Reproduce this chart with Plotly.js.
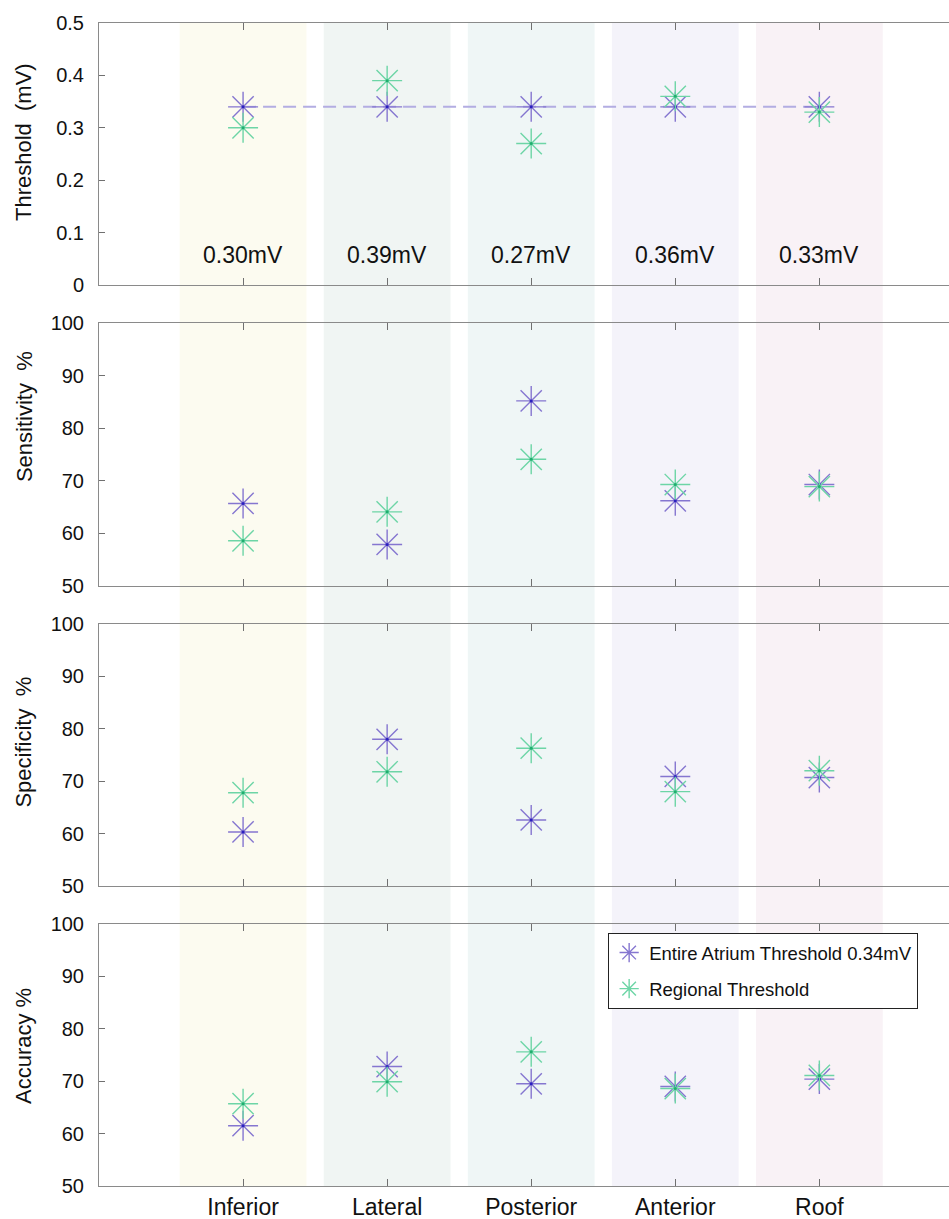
<!DOCTYPE html>
<html>
<head>
<meta charset="utf-8">
<script src="https://cdn.plot.ly/plotly-3.0.1.min.js"></script>
<style>
  html, body { margin: 0; padding: 0; background: #ffffff; overflow: hidden; }
  #chart { width: 949px; height: 1219px; }
</style>
</head>
<body>
<div id="chart"></div>
<script>
// ---- data ----
const categories = ['Inferior', 'Lateral', 'Posterior', 'Anterior', 'Roof'];
const thresholdEntire = [0.34, 0.34, 0.34, 0.34, 0.34];
const thresholdRegional = [0.30, 0.39, 0.27, 0.36, 0.33];
const sensitivityEntire = [65.7, 57.9, 85.2, 66.2, 69.3];
const sensitivityRegional = [58.6, 64.1, 74.1, 69.3, 68.9];
const specificityEntire = [60.3, 78.0, 62.6, 70.9, 70.7];
const specificityRegional = [67.8, 71.8, 76.3, 68.0, 72.0];
const accuracyEntire = [61.5, 72.8, 69.5, 69.0, 70.4];
const accuracyRegional = [65.7, 69.9, 75.6, 68.6, 71.1];
const seriesNames = ['Entire Atrium Threshold 0.34mV', 'Regional Threshold'];
const panelTitles = ['Threshold\u00a0 (mV)', 'Sensitivity\u00a0 %', 'Specificity\u00a0 %', 'Accuracy %'];

// ---- styles ----
const bandColors = ['#fcfbf0', '#f0f5f3', '#eff6f6', '#f4f3fa', '#f9f2f6'];
const purple = '#8576d0';
const green = '#6dd5a6';
const purpleDot = '#2b20c0';
const greenDot = '#1fae6e';
const FONT = 'Liberation Sans, Arial, Helvetica, sans-serif';

const panels = [
  { entire: thresholdEntire, regional: thresholdRegional, range: [0, 0.5], dtick: 0.1, domain: [0.7747, 1.0] },
  { entire: sensitivityEntire, regional: sensitivityRegional, range: [50, 100], dtick: 10, domain: [0.5159, 0.7420] },
  { entire: specificityEntire, regional: specificityRegional, range: [50, 100], dtick: 10, domain: [0.2580, 0.4832] },
  { entire: accuracyEntire, regional: accuracyRegional, range: [50, 100], dtick: 10, domain: [0.0, 0.2253] }
];
const titleY = [0.8977, 0.6612, 0.3813, 0.1204];

const traces = [];
const layout = {
  width: 949, height: 1219,
  margin: { l: 99, r: 0, t: 23, b: 33, pad: 0 },
  paper_bgcolor: '#ffffff', plot_bgcolor: 'rgba(0,0,0,0)',
  font: { family: FONT, color: '#111111' },
  showlegend: true,
  legend: {
    x: 0.599, y: 0.2175, xanchor: 'left', yanchor: 'top',
    bgcolor: '#ffffff', bordercolor: '#222222', borderwidth: 1,
    font: { family: FONT, size: 18.5, color: '#111111' },
    tracegroupgap: 9, traceorder: 'grouped'
  },
  shapes: [], annotations: []
};

const axisLine = { showline: true, linecolor: '#8a8a8a', linewidth: 1, showgrid: false, zeroline: false,
  ticks: 'inside', tickcolor: '#707070', tickwidth: 1, fixedrange: true };

panels.forEach((p, k) => {
  const n = k + 1;
  const xa = 'x' + (k === 0 ? '' : n);
  const ya = 'y' + (k === 0 ? '' : n);
  layout['xaxis' + (k === 0 ? '' : n)] = Object.assign({}, axisLine, {
    type: 'category', categoryorder: 'array', categoryarray: categories,
    range: [-1, 4.9], anchor: ya, mirror: 'ticks', ticklen: 7,
    showticklabels: k === 3, tickfont: { family: FONT, size: 23, color: '#111' },
    ticklabelstandoff: 0
  });
  layout['yaxis' + (k === 0 ? '' : n)] = Object.assign({}, axisLine, {
    domain: p.domain, range: p.range, dtick: p.dtick, tick0: 0, anchor: xa,
    ticklen: 6, mirror: false, tickfont: { family: FONT, size: 20, color: '#111' },
    ticklabelstandoff: 10
  });

  if (k === 0) {
    traces.push({ x: categories, y: p.entire, xaxis: xa, yaxis: ya, mode: 'lines',
      line: { color: '#b3ade2', width: 2, dash: '13px,7px' }, showlegend: false, hoverinfo: 'skip' });
  }
  [[p.entire, purple, purpleDot, 0], [p.regional, green, greenDot, 1]].forEach(([vals, col, dot, s]) => {
    traces.push({ x: categories, y: vals, xaxis: xa, yaxis: ya, mode: 'markers', type: 'scatter',
      name: seriesNames[s], legendgroup: 'g' + s, showlegend: k === 0,
      marker: { symbol: 'asterisk-open', size: 25, color: col, line: { color: col, width: 1.4 } },
      hoverinfo: 'skip' });
    traces.push({ x: categories, y: vals, xaxis: xa, yaxis: ya, mode: 'markers', type: 'scatter',
      showlegend: false, marker: { symbol: 'circle', size: 3, color: dot }, hoverinfo: 'skip' });
  });

  layout.annotations.push({ xref: 'paper', yref: 'paper', x: -0.0882, y: titleY[k],
    xanchor: 'center', yanchor: 'middle', textangle: -90, showarrow: false,
    text: panelTitles[k], font: { family: FONT, size: 22, color: '#111' } });
});

// region threshold labels in the top panel
categories.forEach((c, i) => {
  layout.annotations.push({ xref: 'x', yref: 'y', x: c, y: 0.057, showarrow: false,
    xanchor: 'center', yanchor: 'middle',
    text: thresholdRegional[i].toFixed(2) + 'mV', font: { family: FONT, size: 23, color: '#111' } });
});

// coloured region bands across all panels
categories.forEach((c, i) => {
  layout.shapes.push({ type: 'rect', xref: 'x', yref: 'paper', x0: i - 0.44, x1: i + 0.44, y0: 0, y1: 1,
    fillcolor: bandColors[i], line: { width: 0 }, layer: 'below' });
});

Plotly.newPlot('chart', traces, layout, { staticPlot: true, displayModeBar: false });
</script>
</body>
</html>
